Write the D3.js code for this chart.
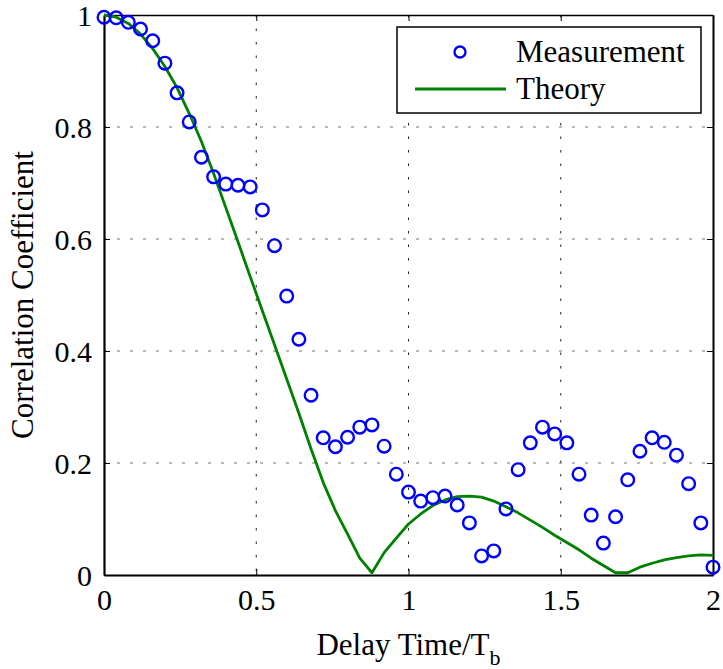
<!DOCTYPE html>
<html>
<head>
<meta charset="utf-8">
<script src="https://cdn.jsdelivr.net/npm/d3@7"></script>
<style>
  html, body { margin: 0; padding: 0; background: #fff; }
  svg { display: block; }
  svg text { font-family: 'Liberation Serif', 'Times New Roman', Tinos, 'DejaVu Serif', serif !important; fill: #000; }
</style>
</head>
<body>
<svg id="chart" width="723" height="669"></svg>
<script>
// Normalised delay values (delay / bit period) for the measured samples
const measX = [0.00, 0.04, 0.08, 0.12, 0.16, 0.20, 0.24, 0.28, 0.32, 0.36,
               0.40, 0.44, 0.48, 0.52, 0.56, 0.60, 0.64, 0.68, 0.72, 0.76,
               0.80, 0.84, 0.88, 0.92, 0.96, 1.00, 1.04, 1.08, 1.12, 1.16,
               1.20, 1.24, 1.28, 1.32, 1.36, 1.40, 1.44, 1.48, 1.52, 1.56,
               1.60, 1.64, 1.68, 1.72, 1.76, 1.80, 1.84, 1.88, 1.92, 1.96, 2.00];
// Measured correlation coefficient
const measY = [0.996, 0.995, 0.987, 0.975, 0.954, 0.914, 0.861, 0.809, 0.746, 0.711,
               0.698, 0.696, 0.693, 0.652, 0.588, 0.498, 0.421, 0.321, 0.245, 0.229,
               0.246, 0.264, 0.268, 0.230, 0.180, 0.148, 0.132, 0.138, 0.141, 0.125,
               0.093, 0.034, 0.043, 0.118, 0.188, 0.236, 0.264, 0.252, 0.236, 0.180,
               0.107, 0.057, 0.104, 0.170, 0.221, 0.245, 0.237, 0.214, 0.163, 0.093, 0.014];

// Theoretical correlation curve
const theoryX = [0.00, 0.04, 0.08, 0.12, 0.16, 0.20, 0.24, 0.28, 0.32, 0.36,
                 0.40, 0.44, 0.48, 0.52, 0.56, 0.60, 0.64, 0.68, 0.72, 0.76,
                 0.80, 0.84, 0.88, 0.92, 0.96, 1.00, 1.04, 1.08, 1.12, 1.16,
                 1.20, 1.24, 1.28, 1.32, 1.36, 1.40, 1.44, 1.48, 1.52, 1.56,
                 1.60, 1.64, 1.68, 1.72, 1.76, 1.80, 1.84, 1.88, 1.92, 1.96, 2.00];
const theoryY = [1.000, 0.996, 0.985, 0.966, 0.940, 0.908, 0.870, 0.824, 0.774, 0.717,
                 0.656, 0.595, 0.533, 0.472, 0.411, 0.350, 0.289, 0.225, 0.165, 0.115,
                 0.073, 0.030, 0.004, 0.040, 0.066, 0.091, 0.109, 0.124, 0.134, 0.140,
                 0.141, 0.139, 0.132, 0.122, 0.111, 0.098, 0.085, 0.071, 0.058, 0.045,
                 0.030, 0.017, 0.004, 0.004, 0.014, 0.021, 0.027, 0.031, 0.034, 0.036, 0.035];

const xTicks = [0, 0.5, 1, 1.5, 2];
const yTicks = [0, 0.2, 0.4, 0.6, 0.8, 1];
const seriesNames = ["Measurement", "Theory"];

const FONT = "'Liberation Serif', 'Times New Roman', Tinos, 'DejaVu Serif', serif";

const svg = d3.select("#chart").attr("font-family", FONT);
const plotLeft = 104, plotRight = 713, plotTop = 15, plotBottom = 575;

const x = d3.scaleLinear().domain([0, 2]).range([plotLeft, plotRight]);
const y = d3.scaleLinear().domain([0, 1]).range([plotBottom, plotTop]);
const fmt = d => d3.format("~g")(d);

// Dotted grid
const grid = svg.append("g");
grid.selectAll("line.vg").data(xTicks.slice(1, -1)).join("line")
  .attr("x1", d => x(d)).attr("x2", d => x(d))
  .attr("y1", plotTop).attr("y2", plotBottom)
  .attr("stroke", "#222").attr("stroke-width", 1)
  .attr("stroke-dasharray", "2.5,11");
grid.selectAll("line.hg").data(yTicks.slice(1, -1)).join("line")
  .attr("x1", plotLeft).attr("x2", plotRight)
  .attr("y1", d => y(d)).attr("y2", d => y(d))
  .attr("stroke", "#777").attr("stroke-width", 1.2)
  .attr("stroke-dasharray", "3,10");

// Axes with inward ticks on all four sides
const tickLen = 6;
const axB = svg.append("g").attr("transform", `translate(0,${plotBottom})`)
  .call(d3.axisBottom(x).tickValues(xTicks).tickSizeInner(-tickLen).tickSizeOuter(0).tickPadding(14).tickFormat(fmt));
const axL = svg.append("g").attr("transform", `translate(${plotLeft},0)`)
  .call(d3.axisLeft(y).tickValues(yTicks).tickSizeInner(-tickLen).tickSizeOuter(0).tickPadding(12).tickFormat(fmt));
const axT = svg.append("g").attr("transform", `translate(0,${plotTop})`)
  .call(d3.axisTop(x).tickValues(xTicks).tickSizeInner(-tickLen).tickSizeOuter(0).tickFormat(""));
const axR = svg.append("g").attr("transform", `translate(${plotRight},0)`)
  .call(d3.axisRight(y).tickValues(yTicks).tickSizeInner(-tickLen).tickSizeOuter(0).tickFormat(""));

[axB, axL, axT, axR].forEach(a => {
  a.attr("font-family", FONT).attr("font-size", 30);
  a.select(".domain").attr("stroke", "#000");
  a.selectAll(".tick line").attr("stroke", "#000").attr("stroke-width", 1);
  a.selectAll(".tick text").attr("font-family", FONT).attr("font-size", 30).attr("fill", "#000");
});
axB.select(".domain").attr("stroke-width", 2.2);
axL.select(".domain").attr("stroke-width", 2.2);
axT.select(".domain").attr("stroke-width", 1.4);
axR.select(".domain").attr("stroke-width", 2);
axB.selectAll(".tick text").attr("dy", "0.71em");
axL.selectAll(".tick text").attr("dy", "0.35em");

// Theory curve
const line = d3.line().x(d => x(d[0])).y(d => y(d[1]));
svg.append("path")
  .datum(theoryX.map((v, i) => [v, theoryY[i]]))
  .attr("d", line)
  .attr("fill", "none")
  .attr("stroke", "#008000")
  .attr("stroke-width", 2.8)
  .attr("stroke-linejoin", "round");

// Measured points
svg.append("g").selectAll("circle")
  .data(measX.map((v, i) => [v, measY[i]]))
  .join("circle")
  .attr("cx", d => x(d[0]))
  .attr("cy", d => y(d[1]))
  .attr("r", 6.3)
  .attr("fill", "none")
  .attr("stroke", "#0000ff")
  .attr("stroke-width", 2.4);

// Axis titles
const xt = svg.append("text")
  .attr("x", (plotLeft + plotRight) / 2)
  .attr("y", 655)
  .attr("text-anchor", "middle")
  .attr("font-family", FONT)
  .attr("font-size", 31);
xt.append("tspan").text("Delay Time/T");
xt.append("tspan").attr("dy", 10).attr("font-size", 22).text("b");

svg.append("text")
  .attr("transform", `translate(33,${(plotTop + plotBottom) / 2}) rotate(-90)`)
  .attr("text-anchor", "middle")
  .attr("font-family", FONT)
  .attr("font-size", 31)
  .text("Correlation Coefficient");

// Legend
const lg = svg.append("g");
lg.append("rect")
  .attr("x", 397).attr("y", 27)
  .attr("width", 304).attr("height", 86)
  .attr("fill", "#fff").attr("stroke", "#000").attr("stroke-width", 1.5);
lg.append("circle")
  .attr("cx", 460).attr("cy", 52).attr("r", 5.5)
  .attr("fill", "none").attr("stroke", "#0000ff").attr("stroke-width", 2.4);
lg.append("line")
  .attr("x1", 415).attr("x2", 506).attr("y1", 89).attr("y2", 89)
  .attr("stroke", "#008000").attr("stroke-width", 2.8);
lg.selectAll("text.lt").data(seriesNames).join("text")
  .attr("x", 516)
  .attr("y", (d, i) => 62 + i * 37)
  .attr("font-family", FONT)
  .attr("font-size", 31)
  .text(d => d);
</script>
</body>
</html>
